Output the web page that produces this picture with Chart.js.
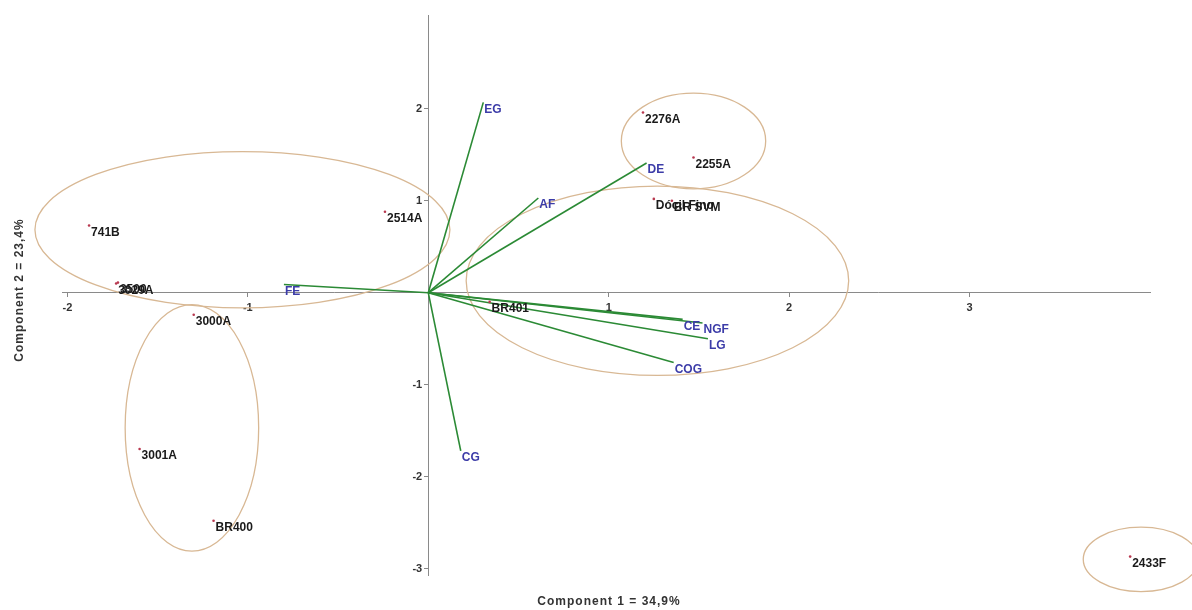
<!DOCTYPE html>
<html>
<head>
<meta charset="utf-8">
<script src="https://cdn.jsdelivr.net/npm/chart.js@4.4.0/dist/chart.umd.min.js"></script>
<style>
  html, body { margin: 0; padding: 0; background: #fff; }
  #wrap { width: 1192px; height: 610px; position: relative; }
</style>
</head>
<body>
<div id="wrap"><canvas id="biplot"></canvas></div>
<script>
// sample scores (component 1, component 2)
const sampleNames = ["741B", "2514A", "3029A", "3500", "3000A", "3001A", "BR400",
  "2276A", "2255A", "Dócil Fino", "BR SVM", "BR401", "2433F"];
const sampleX = [-1.88, -0.24, -1.73, -1.72, -1.30, -1.60, -1.19,
  1.19, 1.47, 1.25, 1.35, 0.34, 3.89];
const sampleY = [0.73, 0.88, 0.10, 0.11, -0.24, -1.70, -2.48,
  1.96, 1.47, 1.02, 1.00, -0.10, -2.87];

// variable loadings
const varNames = ["EG", "DE", "AF", "FE", "CE", "NGF", "LG", "COG", "CG"];
const varX = [0.305, 1.21, 0.61, -0.80, 1.41, 1.52, 1.55, 1.36, 0.18];
const varY = [2.07, 1.41, 1.03, 0.09, -0.29, -0.33, -0.50, -0.76, -1.72];

// group ellipses: centre and radii in axis units
const groupCx = [-1.03, -1.31, 1.47, 1.27, 3.95];
const groupCy = [0.685, -1.47, 1.65, 0.13, -2.90];
const groupRx = [1.15, 0.37, 0.40, 1.06, 0.32];
const groupRy = [0.85, 1.34, 0.52, 1.03, 0.35];

const xTicks = [-2, -1, 1, 2, 3];
const yTicks = [-3, -2, -1, 1, 2];
const xTitle = "Component 1 = 34,9%";
const yTitle = "Component 2 = 23,4%";

const FONT = "'Liberation Sans', Arial, sans-serif";

const vectorSets = varNames.map((name, i) => ({
  label: name,
  data: [{ x: 0, y: 0 }, { x: varX[i], y: varY[i] }],
  showLine: true,
  borderColor: "#2b8a35",
  borderWidth: 1.6,
  pointRadius: 0,
  order: 2
}));

const sampleSet = {
  label: "samples",
  data: sampleNames.map((n, i) => ({ x: sampleX[i], y: sampleY[i] })),
  pointRadius: 1.3,
  pointBackgroundColor: "#b8384f",
  pointBorderWidth: 0,
  showLine: false,
  order: 1
};

const ellipsePlugin = {
  id: "groups",
  beforeDatasetsDraw(chart) {
    const { ctx, scales: { x, y } } = chart;
    ctx.save();
    ctx.strokeStyle = "#d8b894";
    ctx.lineWidth = 1.3;
    groupCx.forEach((cx, i) => {
      const px = x.getPixelForValue(cx);
      const py = y.getPixelForValue(groupCy[i]);
      const rx = Math.abs(x.getPixelForValue(cx + groupRx[i]) - px);
      const ry = Math.abs(y.getPixelForValue(groupCy[i] + groupRy[i]) - py);
      ctx.beginPath();
      ctx.ellipse(px, py, rx, ry, 0, 0, Math.PI * 2);
      ctx.stroke();
    });
    ctx.restore();
  }
};

const labelPlugin = {
  id: "labels",
  afterDatasetsDraw(chart) {
    const { ctx, scales: { x, y } } = chart;
    ctx.save();
    ctx.textBaseline = "middle";
    ctx.textAlign = "left";
    // sample names, just right of and below the dot
    ctx.font = "bold 12px " + FONT;
    ctx.fillStyle = "#1a1a1a";
    sampleNames.forEach((n, i) => {
      ctx.fillText(n, x.getPixelForValue(sampleX[i]) + 2, y.getPixelForValue(sampleY[i]) + 7);
    });
    // variable names at the arrow tips
    ctx.fillStyle = "#3c3ca8";
    varNames.forEach((n, i) => {
      ctx.fillText(n, x.getPixelForValue(varX[i]) + 1, y.getPixelForValue(varY[i]) + 7);
    });
    ctx.restore();
  },
  afterDraw(chart) {
    const { ctx } = chart;
    ctx.save();
    ctx.font = "bold 12px " + FONT;
    ctx.letterSpacing = "1px";
    ctx.fillStyle = "#333";
    ctx.textAlign = "center";
    ctx.textBaseline = "middle";
    ctx.fillText(xTitle, 609, 602);
    ctx.translate(20, 290);
    ctx.rotate(-Math.PI / 2);
    ctx.fillText(yTitle, 0, 0);
    ctx.restore();
  }
};

const axisCommon = {
  type: "linear",
  grid: { display: true, drawOnChartArea: false, drawTicks: true, tickLength: 4, color: "#888" },
  border: { display: true, color: "#8a8a8a", width: 1 },
  ticks: { color: "#333", font: { family: FONT, size: 11, weight: "bold" } }
};

new Chart(document.getElementById("biplot"), {
  type: "scatter",
  data: { datasets: [...vectorSets, sampleSet] },
  options: {
    responsive: true,
    maintainAspectRatio: false,
    animation: false,
    layout: { padding: { left: 62, right: 42, top: 15, bottom: 35 } },
    plugins: { legend: { display: false }, tooltip: { enabled: false } },
    scales: {
      x: {
        ...axisCommon,
        ticks: { ...axisCommon.ticks, padding: 5 },
        min: -2.03, max: 4.0,
        position: { y: 0 },
        afterBuildTicks: axis => { axis.ticks = xTicks.map(v => ({ value: v })); }
      },
      y: {
        ...axisCommon,
        // centred axis ignores padding, so keep labels off the line with spaces
        ticks: { ...axisCommon.ticks, callback: v => v + "  " },
        min: -3.07, max: 3.02,
        position: { x: 0 },
        afterBuildTicks: axis => { axis.ticks = yTicks.map(v => ({ value: v })); }
      }
    }
  },
  plugins: [ellipsePlugin, labelPlugin]
});
</script>
</body>
</html>
